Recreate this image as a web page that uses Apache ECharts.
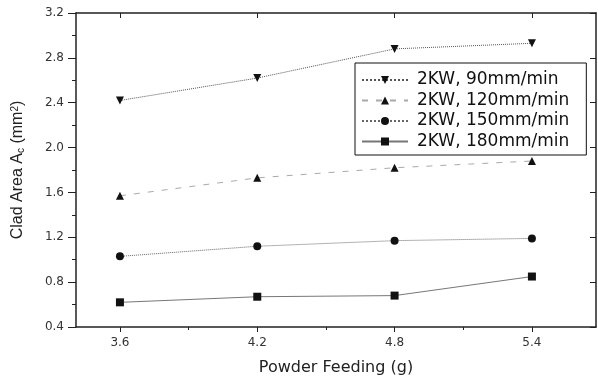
<!DOCTYPE html>
<html>
<head>
<meta charset="utf-8">
<script src="https://cdn.jsdelivr.net/npm/echarts@6/dist/echarts.min.js"></script>
<style>
html, body { margin: 0; padding: 0; background: #fff; }
#chart { width: 598px; height: 382px; }
</style>
</head>
<body>
<div id="chart"></div>
<script>
var feeding = [3.6, 4.2, 4.8, 5.4];
var xLabels = [3.6, 4.2, 4.8, 5.4];
var xMinor = [3.9, 4.5, 5.1];
var names = ['2KW, 90mm/min', '2KW, 120mm/min', '2KW, 150mm/min', '2KW, 180mm/min'];
var v90 = [2.42, 2.62, 2.88, 2.93];
var v120 = [1.57, 1.73, 1.82, 1.88];
var v150 = [1.03, 1.12, 1.17, 1.19];
var v180 = [0.62, 0.67, 0.68, 0.85];

function pairs(vals) {
    var out = [];
    for (var i = 0; i < feeding.length; i++) {
        out.push([feeding[i], vals[i]]);
    }
    return out;
}

var font = 'Liberation Sans, Arial, sans-serif';
var wide = 'DejaVu Sans, sans-serif';
var chart = echarts.init(document.getElementById('chart'));

function line(name, vals, symbol, rotate, type, color) {
    return {
        name: name,
        type: 'line',
        xAxisIndex: 0,
        yAxisIndex: 0,
        data: pairs(vals),
        symbol: symbol,
        symbolSize: 8,
        symbolRotate: rotate,
        lineStyle: { color: color, width: 1, type: type },
        itemStyle: { color: '#111' },
        emphasis: { disabled: true },
        z: 3
    };
}

var option = {
    backgroundColor: '#fff',
    animation: false,
    grid: { left: 76, right: 2, top: 13, bottom: 55, outerBoundsMode: 'none' },
    legend: {
        data: names,
        orient: 'vertical',
        left: 355,
        top: 63,
        itemWidth: 46,
        itemHeight: 10,
        itemGap: 3.5,
        padding: [8.5, 17, 5, 6],
        borderColor: '#111',
        borderWidth: 1,
        backgroundColor: '#fff',
        textStyle: { fontFamily: wide, fontSize: 17, lineHeight: 17, color: '#111', padding: [0, 0, 0, 4] }
    },
    xAxis: [
        {
            type: 'value', position: 'bottom', min: 3.408, max: 5.68,
            name: 'Powder Feeding (g)', nameLocation: 'middle', nameGap: 33,
            nameTextStyle: { fontFamily: wide, fontSize: 16, color: '#222' },
            axisLine: { lineStyle: { color: '#222', width: 1.5 } },
            axisTick: { customValues: xLabels, length: 5, lineStyle: { color: '#222' } },
            axisLabel: { customValues: xLabels, fontFamily: wide, fontSize: 12, color: '#333', margin: 10,
                formatter: function (v) { return v.toFixed(1); } },
            splitLine: { show: false }
        },
        {
            type: 'value', position: 'bottom', min: 3.408, max: 5.68,
            axisLine: { show: false },
            axisTick: { customValues: xMinor, length: 3, lineStyle: { color: '#222' } },
            axisLabel: { show: false },
            splitLine: { show: false }
        },
        {
            type: 'value', position: 'top', min: 3.408, max: 5.68,
            axisLine: { lineStyle: { color: '#222', width: 1.5 } },
            axisTick: { customValues: xLabels, inside: true, length: 5, lineStyle: { color: '#222' } },
            axisLabel: { show: false },
            splitLine: { show: false }
        }
    ],
    yAxis: [
        {
            type: 'value', position: 'left', min: 0.4, max: 3.2, interval: 0.4,
            name: '{t|Clad Area A}{s|c}{t| (mm}{p|2}{t|)}',
            nameLocation: 'middle', nameGap: 50, nameRotate: 90,
            nameTextStyle: {
                rich: {
                    t: { fontFamily: font, fontSize: 16, color: '#222' },
                    s: { fontFamily: font, fontSize: 10, color: '#222', verticalAlign: 'bottom', padding: [6, 0, 0, 0] },
                    p: { fontFamily: font, fontSize: 10, color: '#222', verticalAlign: 'top', padding: [0, 0, 6, 0] }
                }
            },
            axisLine: { show: true, lineStyle: { color: '#222', width: 1.5 } },
            axisTick: { show: true, length: 8, lineStyle: { color: '#222' } },
            minorTick: { show: true, splitNumber: 2, length: 4, lineStyle: { color: '#222' } },
            axisLabel: { fontFamily: wide, fontSize: 12, color: '#333', margin: 12,
                formatter: function (v) { return v.toFixed(1); } },
            splitLine: { show: false }
        },
        {
            type: 'value', position: 'right', min: 0.4, max: 3.2, interval: 0.4,
            axisLine: { show: true, lineStyle: { color: '#222', width: 1.5 } },
            axisTick: { show: true, inside: true, length: 6, lineStyle: { color: '#222' } },
            axisLabel: { show: false },
            splitLine: { show: false }
        }
    ],
    series: [
        line(names[0], v90, 'triangle', 180, 'dotted', '#555'),
        line(names[1], v120, 'triangle', 0, [6, 8], '#aaa'),
        line(names[2], v150, 'circle', 0, 'dotted', '#666'),
        line(names[3], v180, 'rect', 0, 'solid', '#777')
    ]
};
chart.setOption(option);
</script>
</body>
</html>
